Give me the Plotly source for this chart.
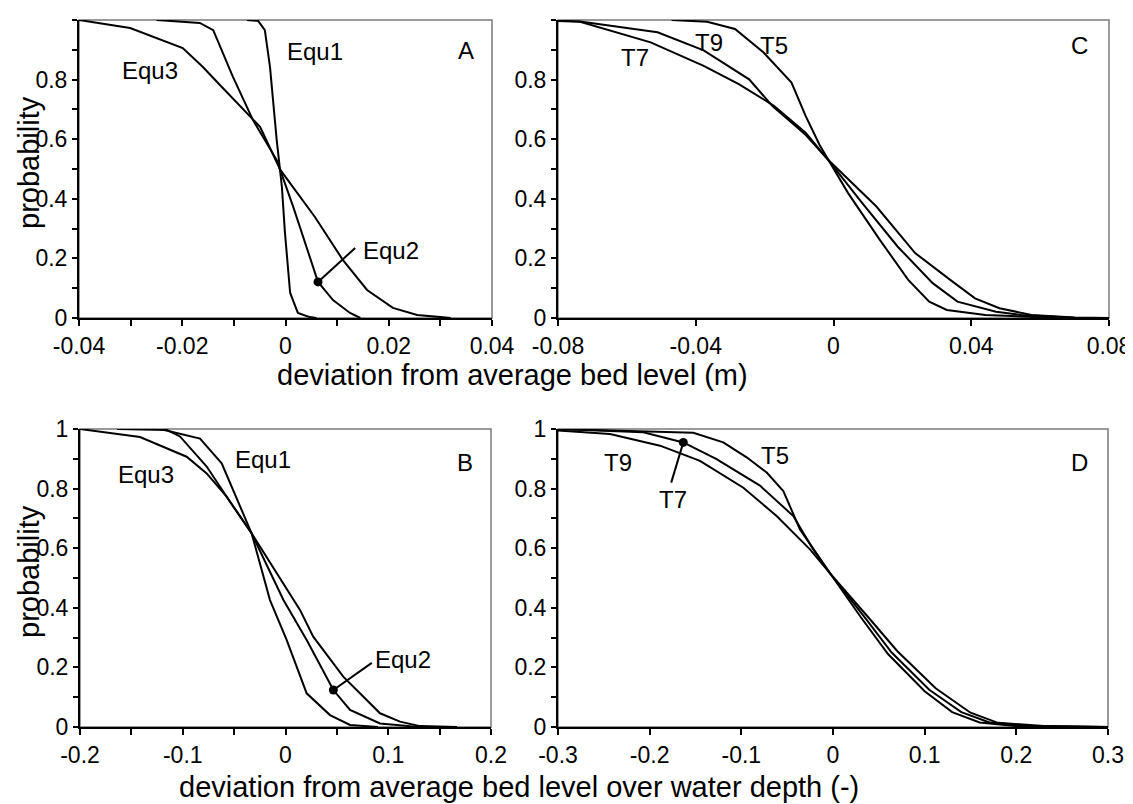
import plotly.graph_objects as go

# ---------------- data ----------------
# Panel A: deviation from average bed level (m)
a_equ1_x = [-0.0075, -0.0053, -0.004, -0.003, -0.0017, -0.0007, -0.0001, 0.0009, 0.0024, 0.0047, 0.006]
a_equ1_y = [1.0, 0.997, 0.966, 0.842, 0.597, 0.44, 0.285, 0.084, 0.017, 0.003, 0.0]
a_equ2_x = [-0.025, -0.0166, -0.014, -0.0102, -0.0063, -0.0017, 0.0015, 0.0063, 0.0092, 0.0125, 0.0145]
a_equ2_y = [1.0, 0.99, 0.966, 0.81, 0.664, 0.53, 0.373, 0.121, 0.06, 0.017, 0.0]
a_equ3_x = [-0.04, -0.0301, -0.0199, -0.016, -0.0127, -0.0049, -0.001, 0.0028, 0.0057, 0.0111, 0.0158, 0.0208, 0.0255, 0.03, 0.032]
a_equ3_y = [1.0, 0.973, 0.906, 0.842, 0.782, 0.641, 0.497, 0.406, 0.339, 0.195, 0.094, 0.034, 0.01, 0.003, 0.0]

# Panel C: deviation from average bed level (m)
c_t5_x = [-0.047, -0.0367, -0.0286, -0.0203, -0.0122, -0.0081, -0.004, -0.0015, 0.0042, 0.0134, 0.0217, 0.0278, 0.0329, 0.0441, 0.0545, 0.065]
c_t5_y = [1.0, 0.994, 0.97, 0.891, 0.79, 0.678, 0.58, 0.53, 0.42, 0.263, 0.128, 0.055, 0.027, 0.01, 0.004, 0.0]
c_t9_x = [-0.08, -0.0736, -0.0511, -0.0377, -0.0245, -0.0178, -0.0081, -0.0015, 0.0083, 0.0186, 0.0288, 0.036, 0.0472, 0.0545, 0.07, 0.08]
c_t9_y = [0.998, 0.995, 0.959, 0.898, 0.801, 0.712, 0.615, 0.53, 0.386, 0.24, 0.117, 0.055, 0.021, 0.01, 0.001, 0.0]
c_t7_x = [-0.08, -0.0736, -0.0531, -0.0377, -0.0275, -0.0173, -0.0081, -0.0015, 0.0124, 0.0237, 0.0339, 0.0411, 0.0482, 0.0575, 0.07, 0.08]
c_t7_y = [0.997, 0.994, 0.925, 0.846, 0.785, 0.712, 0.622, 0.53, 0.375, 0.218, 0.128, 0.066, 0.033, 0.01, 0.002, 0.0]

# Panel B: deviation over water depth (-)
b_equ1_x = [-0.122, -0.0832, -0.0621, -0.0443, -0.033, -0.0151, 0.0011, 0.0206, 0.0433, 0.0628, 0.09]
b_equ1_y = [1.0, 0.968, 0.885, 0.739, 0.65, 0.426, 0.292, 0.113, 0.04, 0.007, 0.0]
b_equ2_x = [-0.164, -0.1156, -0.1027, -0.0767, -0.054, -0.033, -0.002, 0.0206, 0.0466, 0.0628, 0.092, 0.124, 0.14]
b_equ2_y = [1.0, 0.997, 0.975, 0.874, 0.756, 0.65, 0.426, 0.292, 0.124, 0.057, 0.012, 0.002, 0.0]
b_equ3_x = [-0.2, -0.1416, -0.0962, -0.0767, -0.0573, -0.033, 0.0141, 0.027, 0.0562, 0.0789, 0.092, 0.1114, 0.131, 0.167]
b_equ3_y = [1.0, 0.973, 0.907, 0.851, 0.773, 0.65, 0.393, 0.303, 0.169, 0.091, 0.046, 0.018, 0.003, 0.0]

# Panel D: deviation over water depth (-)
d_t5_x = [-0.3, -0.1524, -0.1197, -0.0942, -0.0723, -0.0542, -0.036, -0.0069, -0.003, 0.03, 0.06, 0.1, 0.13, 0.16, 0.2, 0.25]
d_t5_y = [1.0, 0.987, 0.955, 0.905, 0.854, 0.792, 0.663, 0.529, 0.515, 0.37, 0.245, 0.12, 0.05, 0.015, 0.003, 0.0]
d_t7_x = [-0.3, -0.2069, -0.1633, -0.127, -0.0797, -0.0433, -0.0215, -0.003, 0.034, 0.064, 0.105, 0.14, 0.17, 0.21, 0.3]
d_t7_y = [1.0, 0.989, 0.955, 0.899, 0.81, 0.708, 0.596, 0.515, 0.37, 0.25, 0.125, 0.05, 0.016, 0.004, 0.0]
d_t9_x = [-0.3, -0.2433, -0.1887, -0.1451, -0.0978, -0.0615, -0.0251, -0.003, 0.038, 0.07, 0.112, 0.15, 0.18, 0.23, 0.3]
d_t9_y = [0.995, 0.983, 0.944, 0.893, 0.803, 0.708, 0.596, 0.515, 0.37, 0.255, 0.13, 0.048, 0.014, 0.003, 0.0]

# highlighted points (dots)
a_dot = (0.0063, 0.121)
b_dot = (0.0466, 0.124)
d_dot = (-0.1633, 0.955)

# tick labels
y_tickvals = [0, 0.2, 0.4, 0.6, 0.8, 1]
y_ticktext = ["0", "0.2", "0.4", "0.6", "0.8", "1"]
a_tickvals = [-0.04, -0.02, 0, 0.02, 0.04]
a_ticktext = ["-0.04", "-0.02", "0", "0.02", "0.04"]
c_tickvals = [-0.08, -0.04, 0, 0.04, 0.08]
c_ticktext = ["-0.08", "-0.04", "0", "0.04", "0.08"]
b_tickvals = [-0.2, -0.1, 0, 0.1, 0.2]
b_ticktext = ["-0.2", "-0.1", "0", "0.1", "0.2"]
d_tickvals = [-0.3, -0.2, -0.1, 0, 0.1, 0.2, 0.3]
d_ticktext = ["-0.3", "-0.2", "-0.1", "0", "0.1", "0.2", "0.3"]

title_top = "deviation from average bed level (m)"
title_bottom = "deviation from average bed level over water depth (-)"
y_title = "probability"

# ---------------- figure ----------------
W, H = 1133, 804
OFF = 8  # the page body has an 8px default margin
FONT = "Liberation Sans, Arial, Helvetica, sans-serif"
LINE = dict(color="black", width=2)

fig = go.Figure()

panels = [
    ("x", "y", [(a_equ1_x, a_equ1_y), (a_equ2_x, a_equ2_y), (a_equ3_x, a_equ3_y)]),
    ("x2", "y2", [(c_t5_x, c_t5_y), (c_t9_x, c_t9_y), (c_t7_x, c_t7_y)]),
    ("x3", "y3", [(b_equ1_x, b_equ1_y), (b_equ2_x, b_equ2_y), (b_equ3_x, b_equ3_y)]),
    ("x4", "y4", [(d_t5_x, d_t5_y), (d_t7_x, d_t7_y), (d_t9_x, d_t9_y)]),
]
for xa, ya, series in panels:
    for xs, ys in series:
        fig.add_trace(go.Scatter(x=xs, y=ys, mode="lines", line=LINE,
                                 xaxis=xa, yaxis=ya, showlegend=False,
                                 hoverinfo="skip"))

for (xa, ya), dot in [(("x", "y"), a_dot), (("x3", "y3"), b_dot), (("x4", "y4"), d_dot)]:
    fig.add_trace(go.Scatter(x=[dot[0]], y=[dot[1]], mode="markers",
                             marker=dict(color="black", size=9),
                             xaxis=xa, yaxis=ya, showlegend=False,
                             cliponaxis=False, hoverinfo="skip"))


def px_x(p):
    return (p - OFF) / W


def px_y(p):
    return 1 - (p - OFF) / H


def xaxis(dom, rng, tv, tt, minor_dtick=None, anchor="y"):
    d = dict(domain=dom, range=rng, tickmode="array", tickvals=tv, ticktext=tt,
             showline=True, linecolor="black", linewidth=2, mirror=False,
             ticks="outside", ticklen=6, tickwidth=1.5, tickcolor="black",
             showgrid=False, zeroline=False, anchor=anchor, automargin=False,
             tickfont=dict(family=FONT, size=23, color="black"),
             fixedrange=True)
    if minor_dtick:
        d["minor"] = dict(dtick=minor_dtick, tick0=rng[0], ticks="outside",
                          ticklen=6, tickwidth=1.5, tickcolor="black", showgrid=False)
    return d


def yaxis(dom, anchor):
    return dict(domain=dom, range=[0, 1], tickmode="array", tickvals=y_tickvals,
                ticktext=y_ticktext, showline=True, linecolor="black", linewidth=2,
                mirror=False, ticks="outside", ticklen=5, tickwidth=1.5,
                tickcolor="black", showgrid=False, zeroline=False, anchor=anchor,
                automargin=False,
                tickfont=dict(family=FONT, size=23, color="black"),
                minor=dict(dtick=0.1, tick0=0, ticks="outside", ticklen=5,
                           tickwidth=1.5, tickcolor="black", showgrid=False),
                fixedrange=True)


top_y = [px_y(318), px_y(20)]
bot_y = [px_y(727), px_y(429)]

layout = dict(
    width=W, height=H, autosize=False,
    margin=dict(l=0, r=0, t=0, b=0, pad=0, autoexpand=False),
    paper_bgcolor="white", plot_bgcolor="white",
    font=dict(family=FONT, color="black"),
    showlegend=False,
    xaxis=xaxis([px_x(79), px_x(492)], [-0.04, 0.04], a_tickvals, a_ticktext, 0.01, "y"),
    yaxis=yaxis(top_y, "x"),
    xaxis2=xaxis([px_x(558), px_x(1109)], [-0.08, 0.08], c_tickvals, c_ticktext, None, "y2"),
    yaxis2=yaxis(top_y, "x2"),
    xaxis3=xaxis([px_x(80), px_x(491)], [-0.2, 0.2], b_tickvals, b_ticktext, 0.05, "y3"),
    yaxis3=yaxis(bot_y, "x3"),
    xaxis4=xaxis([px_x(558), px_x(1108)], [-0.3, 0.3], d_tickvals, d_ticktext, None, "y4"),
    yaxis4=yaxis(bot_y, "x4"),
)
fig.update_layout(**layout)

# grey frame around every panel
for xa, ya in [("x", "y"), ("x2", "y2"), ("x3", "y3"), ("x4", "y4")]:
    fig.add_shape(type="rect", xref=f"{xa} domain", yref=f"{ya} domain",
                  x0=0, x1=1, y0=0, y1=1, layer="below",
                  line=dict(color="#7a7a7a", width=1.5))

# leader lines
fig.add_shape(type="line", xref="x", yref="y", x0=a_dot[0], y0=a_dot[1], x1=0.0135, y1=0.235,
              line=dict(color="black", width=2))
fig.add_shape(type="line", xref="x3", yref="y3", x0=b_dot[0], y0=b_dot[1], x1=0.084, y1=0.215,
              line=dict(color="black", width=2))
fig.add_shape(type="line", xref="x4", yref="y4", x0=d_dot[0], y0=d_dot[1], x1=-0.1765, y1=0.82,
              line=dict(color="black", width=2))

LBL = dict(family=FONT, size=24, color="black")


def label(text, xa, ya, x, y, xanchor="center"):
    fig.add_annotation(text=text, xref=xa, yref=ya, x=x, y=y, showarrow=False,
                       xanchor=xanchor, yanchor="middle", font=LBL)


label("Equ3", "x", "y", -0.0262, 0.832)
label("Equ1", "x", "y", 0.0057, 0.893)
label("Equ2", "x", "y", 0.0146, 0.228, "left")
label("A", "x", "y", 0.035, 0.899)
label("T7", "x2", "y2", -0.0577, 0.874)
label("T9", "x2", "y2", -0.0362, 0.925)
label("T5", "x2", "y2", -0.0173, 0.914)
label("C", "x2", "y2", 0.0713, 0.914)
label("Equ3", "x3", "y3", -0.1357, 0.846)
label("Equ1", "x3", "y3", -0.0217, 0.896)
label("Equ2", "x3", "y3", 0.085, 0.228, "left")
label("B", "x3", "y3", 0.1747, 0.886)
label("T9", "x4", "y4", -0.2342, 0.887)
label("T7", "x4", "y4", -0.1742, 0.764)
label("T5", "x4", "y4", -0.0633, 0.91)
label("D", "x4", "y4", 0.2686, 0.887)

TITLE = dict(family=FONT, size=29, color="black")
fig.add_annotation(text=title_top, xref="paper", yref="paper", x=px_x(512), y=px_y(375),
                   xanchor="center", yanchor="middle", showarrow=False, font=TITLE)
fig.add_annotation(text=title_bottom, xref="paper", yref="paper", x=px_x(519), y=px_y(787),
                   xanchor="center", yanchor="middle", showarrow=False, font=TITLE)
fig.add_annotation(text=y_title, xref="paper", yref="paper", x=px_x(29), y=px_y(163),
                   xanchor="center", yanchor="middle", textangle=-90, showarrow=False, font=TITLE)
fig.add_annotation(text=y_title, xref="paper", yref="paper", x=px_x(29), y=px_y(572),
                   xanchor="center", yanchor="middle", textangle=-90, showarrow=False, font=TITLE)

fig.write_html("out.html", config={"displayModeBar": False})
